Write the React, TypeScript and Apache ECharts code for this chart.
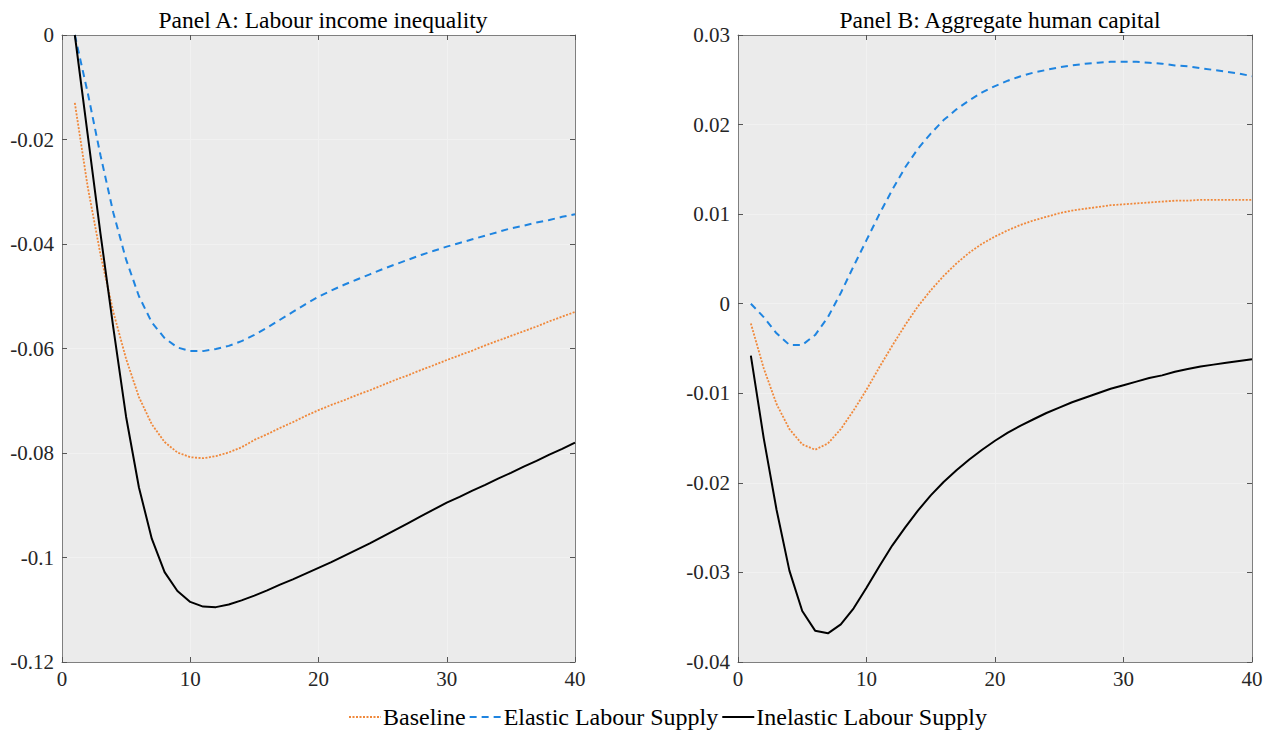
import React, { useEffect, useRef } from "react";
import * as echarts from "echarts";

const periods: number[] = Array.from({ length: 40 }, (_, i) => i + 1);

const seriesNames = ["Baseline", "Elastic Labour Supply", "Inelastic Labour Supply"];

// Panel A: Labour income inequality
const aBaseline = [
  -0.0130, -0.0290, -0.0420, -0.0530, -0.0620, -0.0693, -0.0745, -0.0779, -0.0799, -0.0808,
  -0.0810, -0.0806, -0.0799, -0.0789, -0.0775, -0.0764, -0.0752, -0.0741, -0.0729, -0.0718,
  -0.0708, -0.0699, -0.0689, -0.0680, -0.0670, -0.0660, -0.0651, -0.0641, -0.0632, -0.0622,
  -0.0613, -0.0604, -0.0594, -0.0585, -0.0576, -0.0567, -0.0558, -0.0548, -0.0539, -0.0530,
];
const aElastic = [
  0.0000, -0.0110, -0.0230, -0.0340, -0.0430, -0.0500, -0.0550, -0.0580, -0.0598, -0.0605,
  -0.0605, -0.0601, -0.0595, -0.0586, -0.0574, -0.0560, -0.0545, -0.0530, -0.0515, -0.0501,
  -0.0489, -0.0478, -0.0468, -0.0458, -0.0448, -0.0439, -0.0430, -0.0421, -0.0413, -0.0405,
  -0.0398, -0.0391, -0.0384, -0.0377, -0.0370, -0.0365, -0.0359, -0.0354, -0.0348, -0.0343,
];
const aInelastic = [
  0.0000, -0.0190, -0.0380, -0.0560, -0.0731, -0.0866, -0.0964, -0.1028, -0.1064, -0.1085,
  -0.1094, -0.1095, -0.1090, -0.1082, -0.1073, -0.1063, -0.1052, -0.1042, -0.1031, -0.1020,
  -0.1009, -0.0997, -0.0985, -0.0973, -0.0960, -0.0947, -0.0934, -0.0921, -0.0908, -0.0895,
  -0.0884, -0.0872, -0.0861, -0.0849, -0.0838, -0.0826, -0.0815, -0.0803, -0.0792, -0.0780,
];

// Panel B: Aggregate human capital
const bBaseline = [
  -0.0022, -0.0072, -0.0112, -0.0140, -0.0157, -0.0163, -0.0156, -0.0140, -0.0119, -0.0096,
  -0.0071, -0.0047, -0.0024, -0.0003, 0.0015, 0.0031, 0.0045, 0.0057, 0.0067, 0.0075,
  0.0082, 0.0088, 0.0093, 0.0097, 0.0101, 0.0104, 0.0106, 0.0108, 0.0110, 0.0111,
  0.0112, 0.0113, 0.0114, 0.0115, 0.0115, 0.0116, 0.0116, 0.0116, 0.0116, 0.0116,
];
const bElastic = [
  0.0000, -0.0015, -0.0033, -0.0046, -0.0046, -0.0035, -0.0015, 0.0012, 0.0042, 0.0071,
  0.0100, 0.0127, 0.0152, 0.0173, 0.0190, 0.0205, 0.0217, 0.0227, 0.0236, 0.0243,
  0.0249, 0.0254, 0.0258, 0.0261, 0.0264, 0.0266, 0.0268, 0.0269, 0.0270, 0.0270,
  0.0270, 0.0269, 0.0268, 0.0266, 0.0265, 0.0263, 0.0261, 0.0259, 0.0257, 0.0254,
];
const bInelastic = [
  -0.0058, -0.0150, -0.0230, -0.0298, -0.0343, -0.0365, -0.0368, -0.0358, -0.0340, -0.0317,
  -0.0293, -0.0270, -0.0250, -0.0231, -0.0214, -0.0199, -0.0186, -0.0174, -0.0163, -0.0153,
  -0.0144, -0.0136, -0.0129, -0.0122, -0.0116, -0.0110, -0.0105, -0.0100, -0.0095, -0.0091,
  -0.0087, -0.0083, -0.0080, -0.0076, -0.0073, -0.0070, -0.0068, -0.0066, -0.0064, -0.0062,
];

const panelTitles = ["Panel A: Labour income inequality", "Panel B: Aggregate human capital"];

const FONT = "'Liberation Serif', 'Times New Roman', serif";
const AXIS_GRAY = "#7f7f7f";
const COLORS = ["#F0883A", "#1E84E0", "#000000"];
const LINE_TYPES: any[] = [[2, 1.5], [7, 5], "solid"];
const LINE_WIDTHS = [1.8, 2, 2];

function fmt(v: number) {
  return String(parseFloat(v.toFixed(4)));
}

export default function App() {
  const ref = useRef<HTMLDivElement>(null);
  useEffect(() => {
    if (!ref.current) return;
    const chart = echarts.init(ref.current, undefined, { renderer: "svg" });

    const grids = [
      { left: 62, right: 702, top: 35, bottom: 69 },
      { left: 738, right: 25, top: 35, bottom: 69 },
    ];
    const yRanges = [
      { min: -0.12, max: 0, interval: 0.02 },
      { min: -0.04, max: 0.03, interval: 0.01 },
    ];

    const xAxes: any[] = [];
    const yAxes: any[] = [];
    grids.forEach((_, g) => {
      xAxes.push({
        type: "value", gridIndex: g, min: 0, max: 40, interval: 10, position: "bottom",
        axisLine: { show: true, onZero: false, lineStyle: { color: AXIS_GRAY, width: 1 } },
        axisTick: { show: true, inside: true, length: 5, lineStyle: { color: "#555" } },
        axisLabel: { color: "#262626", fontFamily: FONT, fontSize: 21, margin: 6 },
        splitLine: { show: true, lineStyle: { color: "#f1f1f1", width: 1 } },
      });
      xAxes.push({
        type: "value", gridIndex: g, min: 0, max: 40, interval: 10, position: "top",
        axisLine: { show: true, onZero: false, lineStyle: { color: AXIS_GRAY, width: 1 } },
        axisTick: { show: true, inside: true, length: 5, lineStyle: { color: "#555" } },
        axisLabel: { show: false },
        splitLine: { show: false },
      });
      const r = yRanges[g];
      yAxes.push({
        type: "value", gridIndex: g, min: r.min, max: r.max, interval: r.interval, position: "left",
        axisLine: { show: true, onZero: false, lineStyle: { color: AXIS_GRAY, width: 1 } },
        axisTick: { show: true, inside: true, length: 5, lineStyle: { color: "#555" } },
        axisLabel: { color: "#262626", fontFamily: FONT, fontSize: 21, margin: 8, formatter: fmt },
        splitLine: { show: true, lineStyle: { color: "#f1f1f1", width: 1 } },
      });
      yAxes.push({
        type: "value", gridIndex: g, min: r.min, max: r.max, interval: r.interval, position: "right",
        axisLine: { show: true, onZero: false, lineStyle: { color: AXIS_GRAY, width: 1 } },
        axisTick: { show: true, inside: true, length: 5, lineStyle: { color: "#555" } },
        axisLabel: { show: false },
        splitLine: { show: false },
      });
    });

    const panelData = [
      [aBaseline, aElastic, aInelastic],
      [bBaseline, bElastic, bInelastic],
    ];

    const series: any[] = [];
    panelData.forEach((sets, g) => {
      sets.forEach((vals, k) => {
        series.push({
          name: seriesNames[k],
          type: "line",
          xAxisIndex: g * 2,
          yAxisIndex: g * 2,
          data: periods.map((p, i) => [p, vals[i]]),
          symbol: "none",
          showSymbol: false,
          lineStyle: { color: COLORS[k], width: LINE_WIDTHS[k], type: LINE_TYPES[k] },
          itemStyle: { color: COLORS[k] },
          z: 3 + k,
        });
      });
    });

    chart.setOption({
      animation: false,
      backgroundColor: "#ffffff",
      title: panelTitles.map((t, g) => ({
        text: t,
        left: g === 0 ? 318 : 995,
        textAlign: "center",
        top: 3,
        textStyle: { fontFamily: FONT, fontSize: 23.5, fontWeight: "normal", color: "#000" },
      })),
      grid: grids.map((gr) => ({
        ...gr,
        show: true,
        backgroundColor: "#ebebeb",
        borderWidth: 0,
      })),
      xAxis: xAxes,
      yAxis: yAxes,
      legend: {
        data: seriesNames,
        left: 343,
        top: 700,
        padding: 5,
        itemGap: 3,
        itemWidth: 32,
        itemHeight: 14,
        itemStyle: { opacity: 0 },
        textStyle: { fontFamily: FONT, fontSize: 24, color: "#000", padding: [0, 0, 0, -3] },
      },
      series,
    });

    return () => chart.dispose();
  }, []);

  return (
    <div
      ref={ref}
      style={{ position: "fixed", left: 0, top: 0, width: 1277, height: 731 }}
    />
  );
}
